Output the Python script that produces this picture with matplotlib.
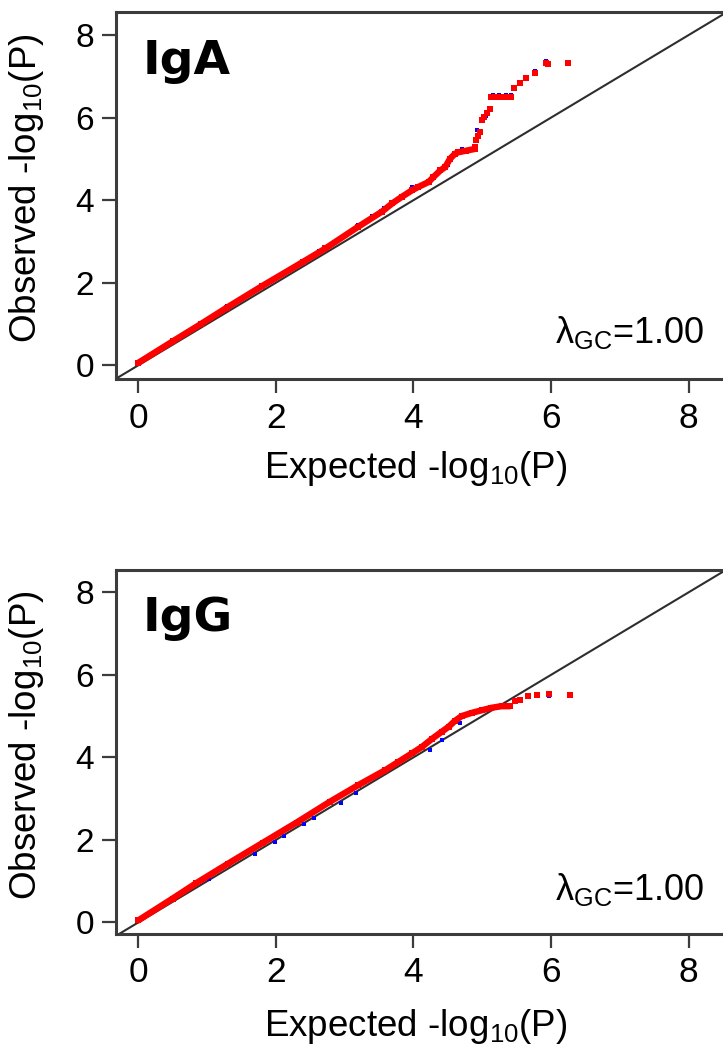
import matplotlib
matplotlib.use("Agg")
import matplotlib.pyplot as plt

plt.rcParams['font.family'] = ['Liberation Sans', 'DejaVu Sans']
plt.rcParams['mathtext.fontset'] = 'custom'
plt.rcParams['mathtext.rm'] = 'Liberation Sans'
plt.rcParams['mathtext.it'] = 'Liberation Sans'

# ---- IgA ----
iga_dense_x = [0.0, 0.5, 0.91, 1.29, 1.8, 2.39, 2.72, 3.2, 3.54, 3.69, 3.83, 3.98,
               4.07, 4.22, 4.29, 4.39, 4.46, 4.53, 4.6, 4.65, 4.77, 4.89]
iga_dense_y = [0.06, 0.58, 1.0, 1.40, 1.92, 2.50, 2.83, 3.36, 3.72, 3.92, 4.08, 4.24,
               4.32, 4.44, 4.56, 4.72, 4.80, 5.0, 5.12, 5.16, 5.2, 5.24]
iga_tail_x = [4.89, 4.91, 4.94, 4.97, 4.99, 5.03, 5.07, 5.11, 5.13, 5.17, 5.21, 5.25,
              5.29, 5.33, 5.37, 5.42, 5.46, 5.55, 5.63, 5.76, 5.93, 5.96, 6.25]
iga_tail_y = [5.28, 5.45, 5.55, 5.65, 5.93, 6.02, 6.1, 6.21, 6.49, 6.49, 6.49, 6.49,
              6.49, 6.49, 6.49, 6.49, 6.71, 6.85, 6.95, 7.09, 7.33, 7.30, 7.33]
iga_blue_x = [0.91, 1.29, 1.8, 1.96, 2.39, 2.63, 2.72, 3.2, 3.39, 3.57, 3.73, 3.98,
              4.5, 4.7, 4.93, 5.05, 5.15, 5.25, 5.35, 5.42, 5.76, 5.93]
iga_blue_y = [1.03, 1.43, 1.95, 2.10, 2.53, 2.78, 2.87, 3.40, 3.61, 3.80, 3.98, 4.31,
              4.85, 5.24, 5.70, 6.05, 6.55, 6.55, 6.55, 6.55, 7.12, 7.38]

# ---- IgG ----
igg_dense_x = [0.0, 0.5, 0.84, 1.3, 1.81, 2.3, 2.78, 3.2, 3.59, 3.78, 3.98, 4.12,
               4.27, 4.41, 4.51, 4.6, 4.7, 4.85, 4.99, 5.13, 5.28, 5.40]
igg_dense_y = [0.05, 0.58, 0.95, 1.42, 1.93, 2.42, 2.92, 3.33, 3.69, 3.89, 4.10, 4.25,
               4.45, 4.62, 4.74, 4.88, 5.0, 5.08, 5.14, 5.2, 5.24, 5.24]
igg_tail_x = [5.47, 5.55, 5.67, 5.79, 5.97, 6.27]
igg_tail_y = [5.36, 5.40, 5.49, 5.52, 5.54, 5.52]
igg_blue_x = [1.03, 1.69, 1.98, 2.12, 2.41, 2.56, 2.95, 3.17, 4.24, 4.41, 4.68,
              5.52, 5.67, 5.97, 6.27]
igg_blue_y = [1.05, 1.65, 1.95, 2.10, 2.38, 2.54, 2.90, 3.14, 4.17, 4.43, 4.83,
              5.40, 5.47, 5.49, 5.49]

ticks = [0, 2, 4, 6, 8]
lambda_gc = "1.00"

W, H = 723, 1048
fig = plt.figure(figsize=(W / 100, H / 100), dpi=100)


def panel(top_px, bottom_px, ylo, yhi, name, dx, dy, tx, ty, bx, by, xlab_base):
    left_px, right_px = 116, 727
    ax = fig.add_axes([left_px / W, 1 - bottom_px / H,
                       (right_px - left_px) / W, (bottom_px - top_px) / H])
    ax.set_xlim(-0.324, 8.557)
    ax.set_ylim(ylo, yhi)
    ax.axline((0, 0), slope=1, color='#2e2e2e', lw=1.5, zorder=1)

    ax.plot(bx, by, 's', color='blue', ms=2.8, mew=0, zorder=2)
    ax.plot(dx, dy, '-', color='red', lw=4.6, solid_capstyle='round', zorder=3)
    ax.plot(dx, dy, 's', color='red', ms=4.5, mew=0, zorder=3)
    ax.plot(tx, ty, 's', color='red', ms=4.3, mew=0, zorder=3)

    ax.set_xticks(ticks)
    ax.set_yticks(ticks)
    for s in ['left', 'top', 'bottom']:
        ax.spines[s].set_color('#3c3c3c')
        ax.spines[s].set_linewidth(2.2)
    ax.spines['right'].set_visible(False)
    ax.tick_params(axis='both', length=10, width=1.6, color='#3c3c3c', direction='out')
    ax.tick_params(axis='x', labelsize=25.5, pad=6)
    ax.tick_params(axis='y', labelsize=24, pad=6)

    ax.text(0.06, 7.05, name, fontsize=34, fontweight='bold', family='DejaVu Sans',
            ha='left', va='baseline')
    ax.text(8.23, 0.55, 'λ$_{\\mathrm{GC}}$=' + lambda_gc, fontsize=26,
            ha='right', va='baseline')

    fig.text(27 / W, 1 - ((top_px + bottom_px) / 2 - 7) / H,
             'Observed -log$_{10}$(P)', rotation=90, fontsize=26.5,
             ha='center', va='center')
    fig.text(415.6 / W, 1 - xlab_base / H, 'Expected -log$_{10}$(P)',
             fontsize=26.5, ha='center', va='baseline')
    return ax


panel(11.7, 379.3, -0.339, 8.565, 'IgA', iga_dense_x, iga_dense_y,
      iga_tail_x, iga_tail_y, iga_blue_x, iga_blue_y, 477.6)
panel(570, 934, -0.28, 8.54, 'IgG', igg_dense_x, igg_dense_y,
      igg_tail_x, igg_tail_y, igg_blue_x, igg_blue_y, 1035.6)

fig.savefig('out.png', dpi=100)
